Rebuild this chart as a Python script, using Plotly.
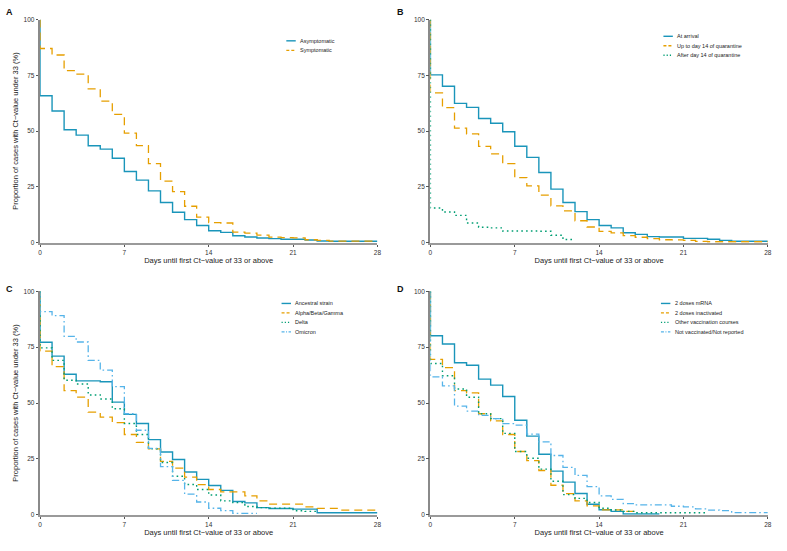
import plotly.graph_objects as go

W, H = 787, 551

# ---------------- data (proportion still under Ct 33, by day interval [d, d+1)) -------------
days = list(range(29))
x_ticks = [0, 7, 14, 21, 28]
y_ticks = [0, 25, 50, 75, 100]

# Panel A
asymptomatic = [65.8, 59.0, 50.6, 48.2, 43.4, 41.9, 37.8, 31.9, 28.0, 23.2, 18.0, 13.6, 10.3, 7.7,
                5.3, 4.6, 3.1, 2.5, 2.1, 1.8, 1.5, 1.5, 1.2, 0.7, 0.6, 0.6, 0.6, 0.6]
symptomatic = [87.0, 84.1, 77.1, 75.5, 68.9, 63.4, 57.5, 49.1, 43.5, 35.4, 27.6, 22.9, 16.3, 11.4,
               9.0, 8.8, 4.7, 4.3, 3.4, 2.5, 2.2, 2.1, 1.3, 1.0, 0.7, 0.7, 0.7, 0.7]

# Panel B
at_arrival = [75.2, 70.1, 62.4, 60.6, 55.6, 53.5, 49.7, 43.2, 38.2, 31.4, 24.0, 18.0, 13.9, 10.3,
              7.7, 6.6, 4.4, 3.7, 2.7, 2.5, 2.5, 1.9, 1.9, 1.5, 1.0, 0.6, 0.6, 0.6]
up_to_day14 = [67.1, 60.5, 51.3, 48.7, 43.1, 39.8, 35.4, 29.1, 25.4, 21.3, 16.5, 14.2, 9.8, 7.0,
               5.0, 4.4, 3.1, 2.4, 1.8, 1.3, 1.2, 1.0, 0.6, 0.4, 0.4, 0.4, 0.4, 0.4]
after_day14 = [15.5, 13.7, 12.2, 8.8, 6.9, 6.6, 5.2, 5.2, 5.2, 5.1, 3.3, 1.4]

# Panel C
ancestral = [77.2, 71.0, 62.9, 59.9, 59.9, 59.5, 50.4, 44.9, 40.8, 33.6, 28.1, 24.7, 19.1, 15.8,
             13.1, 10.9, 5.9, 5.3, 3.2, 2.8, 2.8, 2.5, 2.5, 0.9, 0.9, 0.9, 0.9, 0.9]
alpha_beta_gamma = [73.2, 66.3, 55.5, 52.6, 45.9, 43.7, 41.2, 35.9, 32.4, 29.5, 23.9, 20.9, 16.8, 13.5,
                    11.3, 10.2, 10.2, 8.4, 6.2, 4.7, 4.7, 4.7, 3.5, 2.8, 2.8, 2.1, 2.1, 2.1]
delta = [74.7, 69.1, 60.2, 58.5, 53.6, 51.8, 47.4, 40.8, 35.9, 29.5, 23.4, 17.2, 13.5, 11.3,
         8.8, 6.2, 5.4, 3.7, 3.2, 2.9, 2.9, 1.8, 1.5]
omicron = [90.9, 89.1, 79.8, 77.3, 69.1, 64.7, 57.3, 45.2, 37.8, 29.7, 21.5, 15.4, 9.2, 5.7,
           2.9, 1.8, 0.6, 0.6]

# Panel D
mrna_2doses = [80.1, 76.4, 68.0, 66.9, 60.7, 58.0, 52.9, 42.3, 35.2, 27.1, 19.5, 14.6, 9.5, 4.7,
               2.2, 1.5, 0.3, 0.3, 0.3]
inactivated_2doses = [69.5, 65.8, 55.5, 54.5, 45.2, 42.0, 35.9, 28.3, 24.2, 19.8, 13.2, 9.4, 6.2, 4.0,
                      2.2, 2.2, 1.5]
other_courses = [67.7, 62.2, 56.3, 52.6, 45.2, 43.0, 36.4, 28.3, 25.3, 20.4, 15.0, 9.0, 7.3, 5.5,
                 2.9, 2.1, 1.5, 0.9, 0.9, 0.9, 0.9, 0.9, 0.9]
not_vaccinated = [61.7, 57.7, 48.6, 46.4, 44.5, 43.0, 40.8, 40.1, 36.1, 32.6, 26.5, 21.2, 17.6, 12.6,
                  8.4, 6.9, 5.0, 4.4, 4.4, 4.4, 3.8, 3.5, 2.6, 2.1, 1.8, 0.9, 0.9, 0.9]

# ---------------- styles -------------
TEAL, ORANGE, GREEN, SKY = "#1a95ba", "#E69F00", "#009E73", "#56B4E9"
STY = {
    "solid": dict(color=TEAL, dash="solid", width=1.4),
    "dash": dict(color=ORANGE, dash="8px,5px", width=1.3),
    "dot": dict(color=GREEN, dash="1.6px,3.2px", width=1.4),
    "dashdot": dict(color=SKY, dash="7px,3px,1.6px,3px", width=1.3),
}
LEG_DASH = {"solid": "solid", "dash": "3px,2px", "dot": "1.2px,2px", "dashdot": "3px,1.5px,1px,1.5px"}

panels = [
    ("A", [("Asymptomatic", asymptomatic, "solid"), ("Symptomatic", symptomatic, "dash")]),
    ("B", [("At arrival", at_arrival, "solid"), ("Up to day 14 of quarantine", up_to_day14, "dash"),
           ("After day 14 of quarantine", after_day14, "dot")]),
    ("C", [("Ancestral strain", ancestral, "solid"), ("Alpha/Beta/Gamma", alpha_beta_gamma, "dash"),
           ("Delta", delta, "dot"), ("Omicron", omicron, "dashdot")]),
    ("D", [("2 doses mRNA", mrna_2doses, "solid"), ("2 doses inactivated", inactivated_2doses, "dash"),
           ("Other vaccination courses", other_courses, "dot"),
           ("Not vaccinated/Not reported", not_vaccinated, "dashdot")]),
]

# pixel layout of each panel: (x0, x1, ytop, ybottom), legend (line x0, y of first row), letter pos
geom = {
    "A": dict(x=(38.3, 378.3), y=(15.7, 241.7), leg=(286.5, 37.3), letter=(2.5, 8.0)),
    "B": dict(x=(431.7, 771.7), y=(15.7, 241.7), leg=(666.5, 32.7), letter=(396.5, 8.0)),
    "C": dict(x=(38.3, 378.3), y=(291.0, 517.3), leg=(281.7, 303.3), letter=(2.5, 288.5)),
    "D": dict(x=(431.7, 771.7), y=(291.0, 517.3), leg=(664.0, 303.3), letter=(396.5, 288.5)),
}

def px(x):
    return x / W

def py(y):
    return 1 - y / H

FONT = "Liberation Sans, Arial, sans-serif"
fig = go.Figure()
layout = dict(
    width=W, height=H, margin=dict(l=0, r=0, t=0, b=0),
    paper_bgcolor="white", plot_bgcolor="white", showlegend=False,
    font=dict(family=FONT, color="#222"),
)
annotations, shapes = [], []

for i, (label, series) in enumerate(panels):
    k = "" if i == 0 else str(i + 1)
    g = geom[label]
    for name, vals, st in series:
        n = len(vals)
        xs = [0] + days[:n] + [days[n]]
        ys = [100] + vals + [vals[-1]]
        fig.add_trace(go.Scatter(x=xs, y=ys, mode="lines", name=name, line_shape="hv",
                                 line=STY[st], xaxis="x" + k, yaxis="y" + k,
                                 hoverinfo="skip"))
    layout["xaxis" + k] = dict(
        domain=[px(g["x"][0]), px(g["x"][1])], anchor="y" + k, range=[0, 28],
        tickvals=x_ticks, ticks="outside", ticklen=2.5, tickcolor="#555", tickwidth=1,
        showline=True, linecolor="#9a9a9a", linewidth=2, showgrid=False, zeroline=False,
        tickfont=dict(size=6.5, color="#333"), layer="below traces",
        title=dict(text="Days until first Ct\u2212value of 33 or above",
                   font=dict(size=7.5, color="#222"), standoff=3),
    )
    ytitle = "Proportion of cases with Ct\u2212value under 33 (%)" if label in ("A", "C") else ""
    layout["yaxis" + k] = dict(
        domain=[py(g["y"][1]), py(g["y"][0])], anchor="x" + k, range=[0, 100],
        tickvals=y_ticks, ticks="outside", ticklen=2.5, tickcolor="#555", tickwidth=1,
        showline=True, linecolor="#8a8a8a", linewidth=1.6, showgrid=False, zeroline=False,
        tickfont=dict(size=6.5, color="#333"), layer="below traces",
        title=dict(text=ytitle, font=dict(size=7.5, color="#222"), standoff=4),
    )
    # panel letter
    lx0, ly0 = g["letter"]
    annotations.append(dict(text="<b>%s</b>" % label, x=px(lx0), y=py(ly0),
                            xref="paper", yref="paper", xanchor="left", yanchor="middle",
                            showarrow=False, font=dict(size=9, color="#111")))
    # manual legend
    lx, ly = g["leg"]
    for j, (name, vals, st) in enumerate(series):
        yy = ly + j * 9.6
        s = STY[st]
        shapes.append(dict(type="line", xref="paper", yref="paper",
                           x0=px(lx), x1=px(lx + 9.5), y0=py(yy), y1=py(yy),
                           line=dict(color=s["color"], width=s["width"], dash=LEG_DASH[st])))
        annotations.append(dict(text=name, x=px(lx + 12), y=py(yy), xref="paper", yref="paper",
                                xanchor="left", yanchor="middle", showarrow=False,
                                font=dict(size=5.5, color="#222")))

layout["annotations"] = annotations
layout["shapes"] = shapes
fig.update_layout(**layout)
fig.write_html("out.html", config={"displayModeBar": False},
               post_script="document.body.style.margin='0';document.body.style.padding='0';")
